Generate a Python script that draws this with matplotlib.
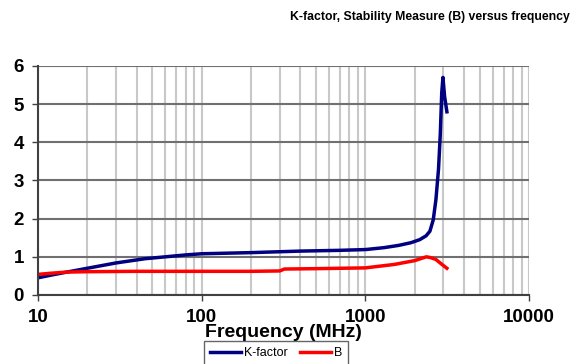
import numpy as np
from matplotlib import pyplot as plt

# K-factor readings (MHz, value)
k_freq = [10, 12, 15, 20, 30, 45, 60, 80, 100, 200, 400, 700, 1000, 1300,
          1600, 1900, 2150, 2350, 2480, 2600, 2700, 2800, 2870, 2930, 2980,
          3050, 3150]
k_val = [0.45, 0.52, 0.6, 0.7, 0.84, 0.95, 1.0, 1.05, 1.08, 1.11, 1.15, 1.17,
         1.19, 1.24, 1.3, 1.37, 1.45, 1.55, 1.67, 1.97, 2.5, 3.3, 4.2, 5.3,
         5.7, 5.2, 4.8]

# Stability measure B
b_freq = [10, 12, 15, 20, 40, 100, 200, 300, 320, 500, 1000, 1500, 2000,
          2360, 2500, 2700, 2900, 3150]
b_val = [0.54, 0.57, 0.6, 0.61, 0.62, 0.62, 0.62, 0.63, 0.68, 0.69, 0.71,
         0.8, 0.9, 1.0, 0.98, 0.93, 0.82, 0.7]

plt.rcParams['font.family'] = ['Liberation Sans', 'DejaVu Sans']

fig = plt.figure(figsize=(5.74, 3.64), dpi=100)
ax = fig.add_axes([0.0662, 0.1896, 0.8554, 0.6291])

ax.plot(k_freq, k_val, color='#000080', lw=2.5, label='K-factor')
ax.plot(b_freq, b_val, color='#ff0000', lw=2.5, label='B')

ax.set_xscale('log')
ax.set_xlim(10, 10000)
ax.set_ylim(0, 6)
ax.set_yticks(range(0, 7))
ax.set_xticks([10, 100, 1000, 10000])
ax.set_xticklabels(['10', '100', '1000', '10000'])
ax.minorticks_on()
ax.tick_params(axis='y', which='minor', left=False)
ax.tick_params(axis='x', which='minor', bottom=False)
ax.tick_params(which='major', length=4, width=1, color='#404040', pad=6,
               labelsize=13.5)
for lab in ax.get_xticklabels() + ax.get_yticklabels():
    lab.set_fontweight('bold')

ax.grid(axis='x', which='both', color='#c8c8c8', lw=1.5)
ax.grid(axis='y', which='major', color='#707070', lw=1.5)
ax.set_axisbelow(True)
for s in ['top', 'right']:
    ax.spines[s].set_visible(False)
ax.spines['left'].set_color('#404040')
ax.spines['bottom'].set_color('#404040')
ax.spines['left'].set_linewidth(1.5)
ax.spines['bottom'].set_linewidth(1.5)

ax.set_xlabel('Frequency (MHz)', fontsize=14, fontweight='bold',
              labelpad=-1)
fig.text(0.993, 0.952, 'K-factor, Stability Measure (B) versus frequency',
         ha='right', va='center', fontsize=8.8, fontweight='bold')

leg = fig.legend(loc='center', bbox_to_anchor=(0.481, 0.03), ncol=2,
                 fontsize=9, frameon=True, fancybox=False, handlelength=2.5,
                 columnspacing=1.0, handletextpad=0.2, borderpad=0.5)
leg.get_frame().set_edgecolor('#404040')

plt.savefig('out.png', dpi=100)
